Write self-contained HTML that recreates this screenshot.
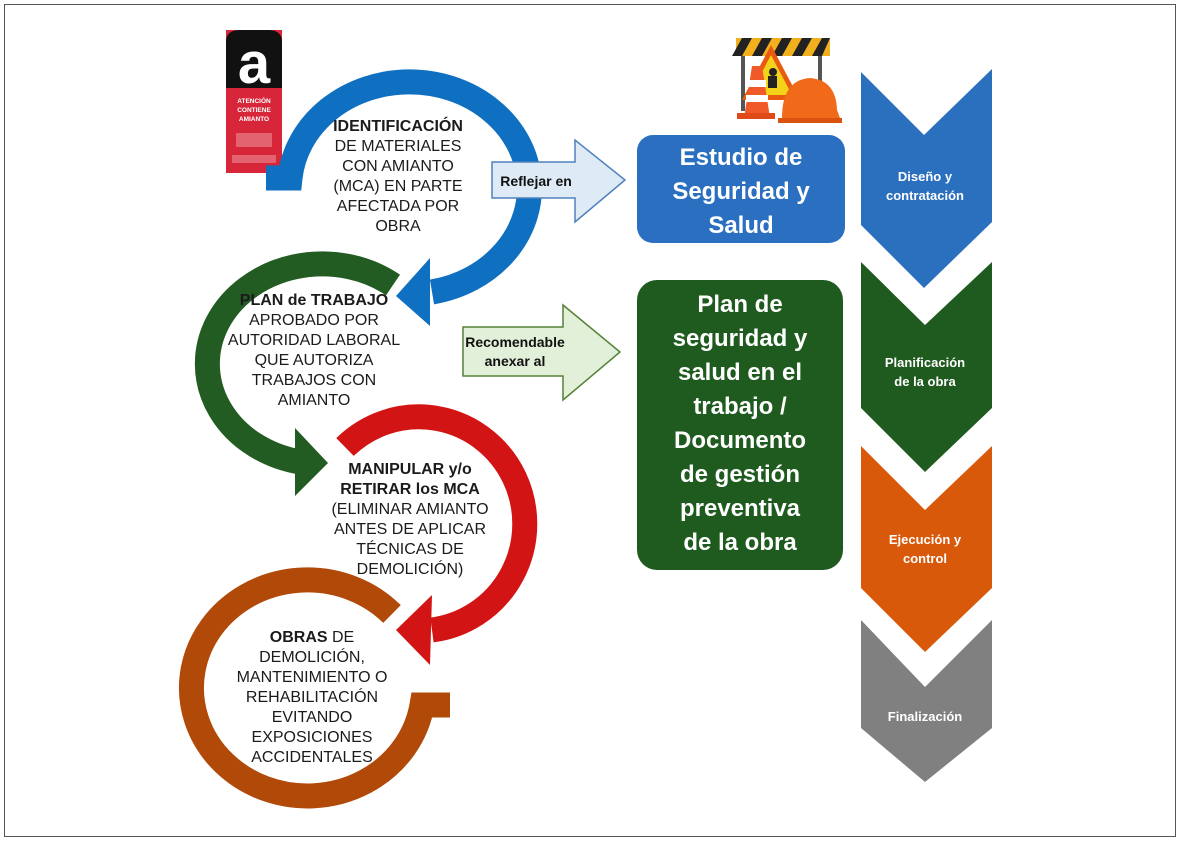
<!DOCTYPE html>
<html><head><meta charset="utf-8"><style>
html,body{margin:0;padding:0;background:#fff;}
svg{display:block;}
text{font-family:"Liberation Sans",sans-serif;}
</style></head><body>
<svg width="1181" height="842" viewBox="0 0 1181 842" xmlns="http://www.w3.org/2000/svg">
<rect x="4.5" y="4.5" width="1171" height="832" fill="#fff" stroke="#555" stroke-width="1"/>

<!-- logo -->
<rect x="226" y="30" width="56" height="143" fill="#d7263a"/>
<path d="M226 88 L226 42 Q226 30 240 30 L268 30 Q282 30 282 42 L282 88 Z" fill="#111"/>
<text x="254" y="83" font-size="58" font-weight="bold" fill="#fff" text-anchor="middle">a</text>
<text x="254" y="103" font-size="6.5" fill="#fff" text-anchor="middle" font-weight="bold">ATENCIÓN</text>
<text x="254" y="112" font-size="6.5" fill="#fff" text-anchor="middle" font-weight="bold">CONTIENE</text>
<text x="254" y="121" font-size="6.5" fill="#fff" text-anchor="middle" font-weight="bold">AMIANTO</text>
<rect x="236" y="133" width="36" height="14" fill="#f0a0a8" opacity="0.5"/>
<rect x="232" y="155" width="44" height="8" fill="#f0a0a8" opacity="0.5"/>

<!-- blue arc -->
<path d="M 266 178 L 290 178 A 120 106 0 1 1 432 292" fill="none" stroke="#0f6fc0" stroke-width="25"/>
<polygon points="430,258 430,326 396,296" fill="#0f6fc0"/>
<!-- green arc -->
<path d="M 393 285 A 115 100 0 1 0 300 462" fill="none" stroke="#225c22" stroke-width="25"/>
<polygon points="295,428 295,496 328,463" fill="#225c22"/>
<!-- red arc -->
<path d="M 345 447 A 106 107 0 1 1 432 630" fill="none" stroke="#d31414" stroke-width="25"/>
<polygon points="432,595 430,665 396,630" fill="#d31414"/>
<!-- orange ring -->
<path d="M 392 614 A 116 108 0 1 0 422 705 L 450 705" fill="none" stroke="#b14909" stroke-width="25"/>

<!-- left texts -->
<g font-size="16" fill="#1b1b1b" text-anchor="middle">
<text x="398" y="131" font-weight="bold">IDENTIFICACIÓN</text>
<text x="398" y="151">DE MATERIALES</text>
<text x="398" y="171">CON AMIANTO</text>
<text x="398" y="191">(MCA) EN PARTE</text>
<text x="398" y="211">AFECTADA POR</text>
<text x="398" y="231">OBRA</text>

<text x="314" y="305" font-weight="bold">PLAN de TRABAJO</text>
<text x="314" y="325">APROBADO POR</text>
<text x="314" y="345">AUTORIDAD LABORAL</text>
<text x="314" y="365">QUE AUTORIZA</text>
<text x="314" y="385">TRABAJOS CON</text>
<text x="314" y="405">AMIANTO</text>

<text x="410" y="474" font-weight="bold">MANIPULAR y/o</text>
<text x="410" y="494" font-weight="bold">RETIRAR los MCA</text>
<text x="410" y="514">(ELIMINAR AMIANTO</text>
<text x="410" y="534">ANTES DE APLICAR</text>
<text x="410" y="554">TÉCNICAS DE</text>
<text x="410" y="574">DEMOLICIÓN)</text>

<text x="312" y="642"><tspan font-weight="bold">OBRAS</tspan> DE</text>
<text x="312" y="662">DEMOLICIÓN,</text>
<text x="312" y="682">MANTENIMIENTO O</text>
<text x="312" y="702">REHABILITACIÓN</text>
<text x="312" y="722">EVITANDO</text>
<text x="312" y="742">EXPOSICIONES</text>
<text x="312" y="762">ACCIDENTALES</text>
</g>

<!-- arrows -->
<polygon points="492,162 575,162 575,140 625,180 575,222 575,198 492,198" fill="#deebf7" stroke="#4f81bd" stroke-width="1.5"/>
<text x="536" y="186" font-size="14" font-weight="bold" fill="#111" text-anchor="middle">Reflejar en</text>
<polygon points="463,327 563,327 563,305 620,352 563,400 563,376 463,376" fill="#e2f0d9" stroke="#548235" stroke-width="1.5"/>
<text x="515" y="347" font-size="14" font-weight="bold" fill="#111" text-anchor="middle">Recomendable</text>
<text x="515" y="366" font-size="14" font-weight="bold" fill="#111" text-anchor="middle">anexar al</text>

<!-- boxes -->
<rect x="637" y="135" width="208" height="108" rx="16" fill="#2b70c0"/>
<g font-size="24" font-weight="bold" fill="#fff" text-anchor="middle">
<text x="741" y="165">Estudio de</text>
<text x="741" y="199">Seguridad y</text>
<text x="741" y="233">Salud</text>
</g>
<rect x="637" y="280" width="206" height="290" rx="20" fill="#1f5a1f"/>
<g font-size="24" font-weight="bold" fill="#fff" text-anchor="middle">
<text x="740" y="312">Plan de</text>
<text x="740" y="346">seguridad y</text>
<text x="740" y="380">salud en el</text>
<text x="740" y="414">trabajo /</text>
<text x="740" y="448">Documento</text>
<text x="740" y="482">de gestión</text>
<text x="740" y="516">preventiva</text>
<text x="740" y="550">de la obra</text>
</g>

<!-- chevrons -->
<polygon points="861,72 924,135 992,69 992,222 924,288 861,225" fill="#2b6fbf"/>
<polygon points="861,262 925,325 992,262 992,408 925,472 861,408" fill="#1f5a1f"/>
<polygon points="861,446 925,510 992,446 992,588 925,652 861,588" fill="#d9590a"/>
<polygon points="861,620 925,687 992,620 992,728 925,782 861,728" fill="#808080"/>
<g font-size="13" font-weight="bold" fill="#fff" text-anchor="middle">
<text x="925" y="181">Diseño y</text>
<text x="925" y="200">contratación</text>
<text x="925" y="367">Planificación</text>
<text x="925" y="386">de la obra</text>
<text x="925" y="544">Ejecución y</text>
<text x="925" y="563">control</text>
<text x="925" y="721">Finalización</text>
</g>

<!-- construction icon -->
<rect x="736" y="38" width="94" height="18" fill="#f2b01e"/>
<g fill="#222"><polygon points="742,38 752,38 742,56 732,56"/><polygon points="762,38 772,38 762,56 752,56"/><polygon points="782,38 792,38 782,56 772,56"/><polygon points="802,38 812,38 802,56 792,56"/><polygon points="822,38 830,38 822,56 812,56"/></g>
<rect x="741" y="56" width="4" height="55" fill="#555"/>
<rect x="818" y="56" width="4" height="40" fill="#555"/>
<polygon points="771,45 800,100 742,100" fill="#e85a10"/>
<polygon points="771,55 792,95 750,95" fill="#f5d21a"/>
<circle cx="773" cy="72" r="4" fill="#222"/>
<rect x="768" y="76" width="9" height="12" fill="#222"/>
<polygon points="744,118 752,66 762,66 770,118" fill="#f05a28"/>
<rect x="748" y="80" width="18" height="7" fill="#fff"/>
<rect x="746" y="95" width="22" height="7" fill="#fff"/>
<rect x="737" y="113" width="38" height="6" fill="#e04a18"/>
<path d="M782 118 Q782 80 810 78 Q836 80 837 110 L840 118 Z" fill="#f06a1a"/>
<path d="M778 118 L842 118 L842 123 L778 123 Z" fill="#d9520e"/>
</svg>
</body></html>
